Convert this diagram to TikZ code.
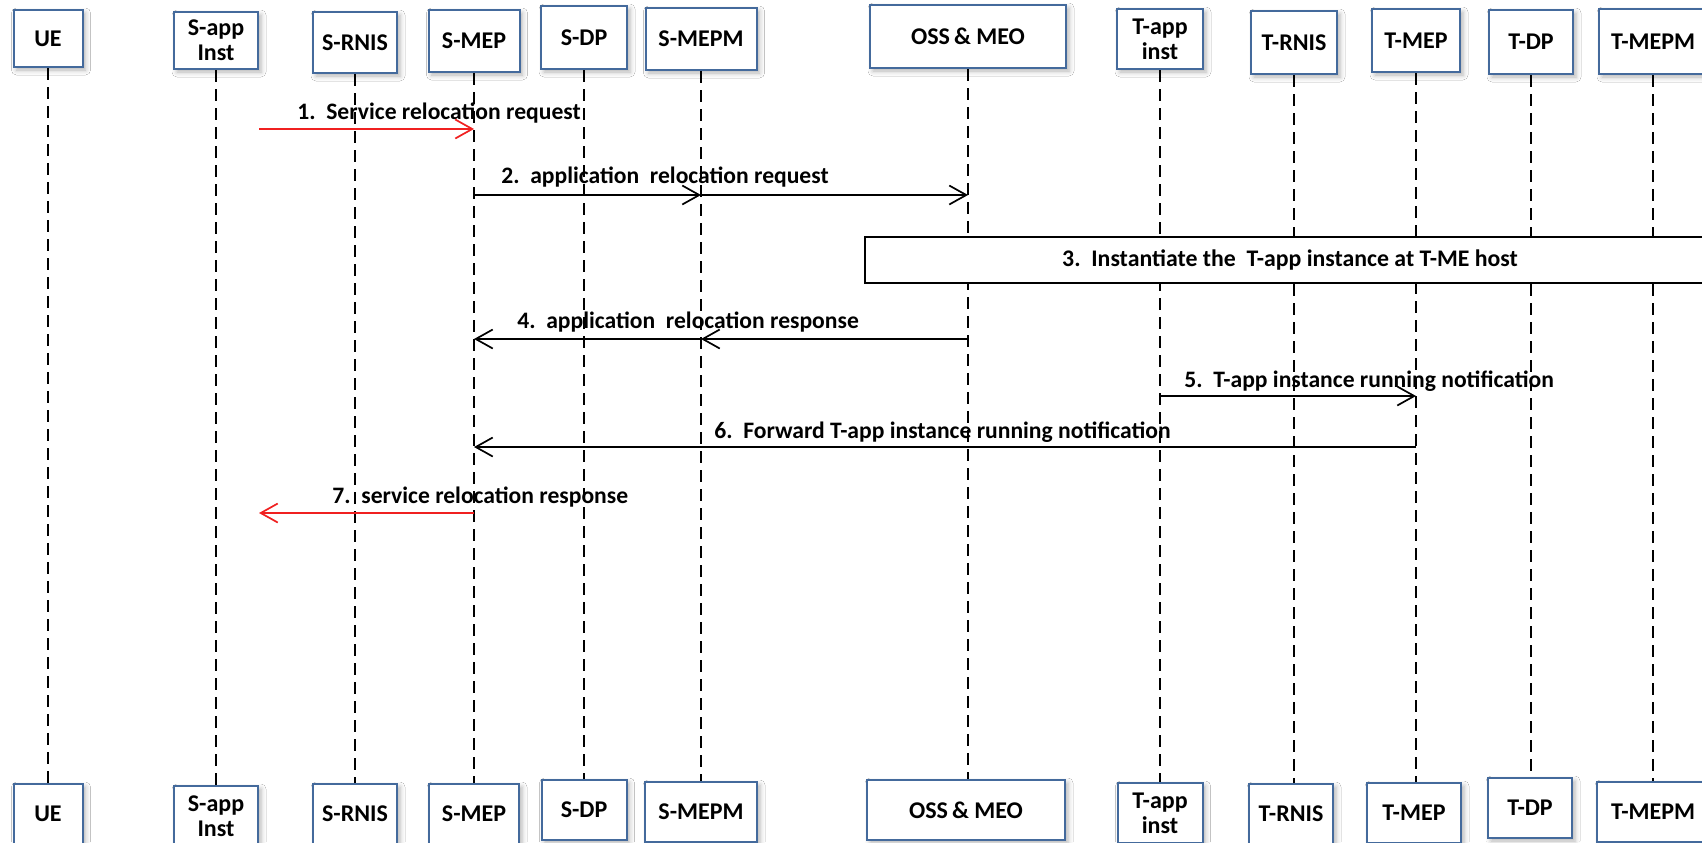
\documentclass[tikz,border=0pt]{standalone}
\usepackage{fontspec}
\setmainfont{Carlito}
\usetikzlibrary{arrows.meta,shadows.blur}
\definecolor{boxblue}{RGB}{68,106,156}
\definecolor{msgred}{RGB}{240,32,32}
\tikzset{
  actor/.style={draw=boxblue, line width=1pt, fill=white, align=center, inner sep=0pt,
    font=\bfseries\fontsize{12}{12.5}\selectfont,
    blur shadow={shadow xshift=1.5pt, shadow yshift=-1.5pt, shadow blur radius=2.5pt, shadow opacity=30}},
  lifeline/.style={line width=0.75pt, dash pattern=on 6pt off 3.5pt},
  msg/.style={line width=0.85pt, -{Straight Barb[length=8.5pt, width=9.5pt, line width=0.85pt]}},
  redmsg/.style={msg, draw=msgred},
  lbl/.style={anchor=base west, inner sep=0pt, font=\bfseries\fontsize{11.8}{14}\selectfont},
  phase/.style={draw, line width=0.75pt, fill=white, inner sep=0pt, font=\bfseries\fontsize{11.9}{14}\selectfont},
}
\begin{document}
\begin{tikzpicture}[x=0.5pt, y=-0.5pt]
\clip (0,0) rectangle (1702,842);
\fill[white] (0,0) rectangle (1702,842);

% participants, top row
\node[actor, minimum width=34.5pt, minimum height=28.5pt] (ue)    at (48,38.5)   {UE};
\node[actor, minimum width=42pt,   minimum height=28.5pt] (sapp)  at (216,40.5)  {S-app\\Inst};
\node[actor, minimum width=42pt,   minimum height=30.5pt] (srnis) at (355,42.5)  {S-RNIS};
\node[actor, minimum width=45.5pt, minimum height=31pt]   (smep)  at (474,41)    {S-MEP};
\node[actor, minimum width=43pt,   minimum height=31.5pt] (sdp)   at (584,37.5)  {S-DP};
\node[actor, minimum width=55.5pt, minimum height=31pt]   (smepm) at (701,39)    {S-MEPM};
\node[actor, minimum width=98pt,   minimum height=31.5pt] (oss)   at (968,36.5)  {OSS\,\&~MEO};
\node[actor, minimum width=43pt,   minimum height=30pt]   (tapp)  at (1160,39)   {T-app\\inst};
\node[actor, minimum width=43pt,   minimum height=31.5pt] (trnis) at (1294,42.5)  {T-RNIS};
\node[actor, minimum width=44pt,   minimum height=31.5pt] (tmep)  at (1416,40.5)  {T-MEP};
\node[actor, minimum width=42pt,   minimum height=32pt]   (tdp)   at (1531,42)    {T-DP};
\node[actor, minimum width=54pt,   minimum height=32.5pt] (tmepm) at (1653,41.5)  {T-MEPM};

% participants, bottom row
\node[actor, minimum width=34.5pt, minimum height=30pt] (ue-b)    at (48,814)   {UE};
\node[actor, minimum width=42pt,   minimum height=30pt] (sapp-b)  at (216,816)  {S-app\\Inst};
\node[actor, minimum width=42pt,   minimum height=30pt] (srnis-b) at (355,814)  {S-RNIS};
\node[actor, minimum width=45pt,   minimum height=30pt] (smep-b)  at (474,814)  {S-MEP};
\node[actor, minimum width=42.5pt, minimum height=30pt] (sdp-b)   at (584,810)  {S-DP};
\node[actor, minimum width=56pt,   minimum height=30pt] (smepm-b) at (701,812)  {S-MEPM};
\node[actor, minimum width=99pt,   minimum height=30pt] (oss-b)   at (966,810)  {OSS\,\&~MEO};
\node[actor, minimum width=42.5pt, minimum height=30pt] (tapp-b)  at (1160,813) {T-app\\inst};
\node[actor, minimum width=42pt,   minimum height=30pt] (trnis-b) at (1291,814) {T-RNIS};
\node[actor, minimum width=47pt,   minimum height=30pt] (tmep-b)  at (1414,813) {T-MEP};
\node[actor, minimum width=42pt,   minimum height=30pt] (tdp-b)   at (1530,808) {T-DP};
\node[actor, minimum width=56pt,   minimum height=30pt] (tmepm-b) at (1653,812) {T-MEPM};

% lifelines
\foreach \n in {ue,sapp,srnis,smep,sdp,smepm,oss,tapp,trnis,tmep,tdp,tmepm}
  \draw[lifeline] (\n.south) -- (\n.south |- \n-b.north);

% step 3 spans the target side
\node[phase, minimum width=425pt, minimum height=23pt] (inst) at (1290,260)
  {3.~~Instantiate the~~T-app instance at T-ME host};

% message rows
\coordinate (r1) at (0,129);
\coordinate (r2) at (0,195);
\coordinate (r4) at (0,339);
\coordinate (r5) at (0,396);
\coordinate (r6) at (0,447);
\coordinate (r7) at (0,513);

% messages
\draw[redmsg] (sapp.east |- r1) -- (smep |- r1);
\draw[msg] (smep |- r2) -- (smepm |- r2);
\draw[msg] (smepm |- r2) -- (oss |- r2);
\draw[msg] (oss |- r4) -- (smepm |- r4);
\draw[msg] (smepm |- r4) -- (smep |- r4);
\draw[msg] (tapp |- r5) -- (tmep |- r5);
\draw[msg] (tmep |- r6) -- (smep |- r6);
\draw[redmsg] (smep |- r7) -- (sapp.east |- r7);

% message labels
\node[lbl] (l1) at (297,119)  {1.~~Service relocation request};
\node[lbl] (l2) at (501,183)  {2.~~application~~relocation request};
\node[lbl] (l4) at (517,328)  {4.~~application~~relocation response};
\node[lbl] (l5) at (1184,387) {5.~~T-app instance running notification};
\node[lbl] (l6) at (714,438)  {6.~~Forward T-app instance running notification};
\node[lbl] (l7) at (332,503)  {7.~~service relocation response};
\end{tikzpicture}
\end{document}
